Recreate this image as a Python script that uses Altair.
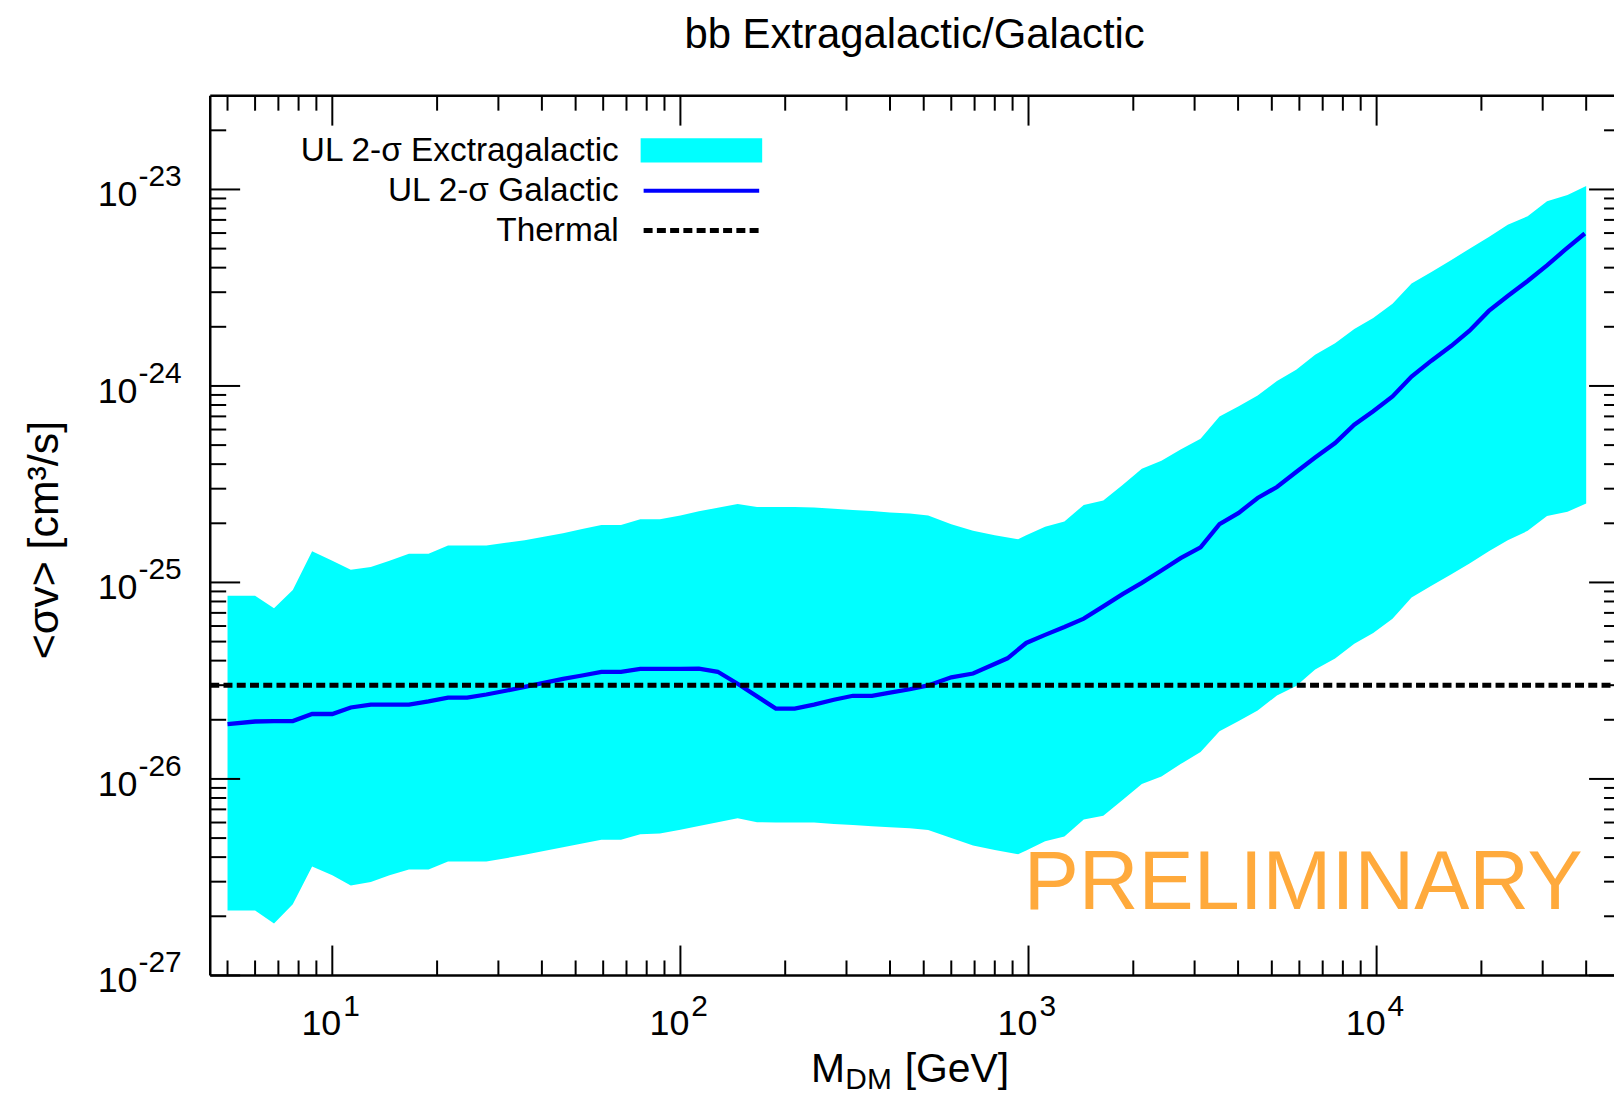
import altair as alt
import pandas as pd

# ---------------- data ----------------
band_mass = [5, 6, 6.8, 7.7, 8.75, 10, 11.3, 12.9, 14.6, 16.6, 18.9, 21.5, 24.4, 27.7, 31.5,
             35.7, 40.5, 46, 52.2, 59.3, 67.5, 76.7, 87.3, 100, 113, 128, 146, 166, 188, 213,
             242, 276, 313, 355, 400, 456, 515, 600, 693, 800, 933, 985, 1116, 1268, 1441,
             1640, 1863, 2116, 2409, 2735, 3121, 3537, 4017, 4553, 5173, 5875, 6659, 7599,
             8628, 9779, 11110, 12600, 14370, 16400, 18490, 21010, 23810, 27160, 30870,
             35350, 40000]
band_upper = [8.55e-26, 8.55e-26, 7.38e-26, 9.16e-26, 1.44e-25, 1.29e-25, 1.16e-25, 1.20e-25,
              1.29e-25, 1.40e-25, 1.40e-25, 1.54e-25, 1.54e-25, 1.54e-25, 1.59e-25, 1.64e-25,
              1.71e-25, 1.78e-25, 1.87e-25, 1.96e-25, 1.96e-25, 2.10e-25, 2.10e-25, 2.19e-25,
              2.30e-25, 2.40e-25, 2.51e-25, 2.42e-25, 2.42e-25, 2.42e-25, 2.41e-25, 2.37e-25,
              2.34e-25, 2.31e-25, 2.27e-25, 2.24e-25, 2.19e-25, 1.98e-25, 1.83e-25, 1.74e-25,
              1.66e-25, 1.74e-25, 1.92e-25, 2.04e-25, 2.48e-25, 2.61e-25, 3.13e-25, 3.79e-25,
              4.16e-25, 4.75e-25, 5.38e-25, 7.00e-25, 7.89e-25, 8.93e-25, 1.06e-24, 1.21e-24,
              1.44e-24, 1.65e-24, 1.95e-24, 2.22e-24, 2.62e-24, 3.32e-24, 3.80e-24, 4.38e-24,
              4.99e-24, 5.73e-24, 6.61e-24, 7.30e-24, 8.71e-24, 9.36e-24, 1.04e-23]
band_lower = [2.14e-27, 2.14e-27, 1.84e-27, 2.30e-27, 3.58e-27, 3.23e-27, 2.87e-27, 2.99e-27,
              3.23e-27, 3.46e-27, 3.46e-27, 3.80e-27, 3.80e-27, 3.80e-27, 3.95e-27, 4.11e-27,
              4.30e-27, 4.49e-27, 4.69e-27, 4.91e-27, 4.91e-27, 5.23e-27, 5.28e-27, 5.52e-27,
              5.76e-27, 6.02e-27, 6.31e-27, 6.02e-27, 6.00e-27, 6.00e-27, 6.00e-27, 5.90e-27,
              5.83e-27, 5.74e-27, 5.68e-27, 5.61e-27, 5.50e-27, 5.01e-27, 4.58e-27, 4.35e-27,
              4.14e-27, 4.32e-27, 4.82e-27, 5.09e-27, 6.21e-27, 6.50e-27, 7.81e-27, 9.41e-27,
              1.03e-26, 1.19e-26, 1.37e-26, 1.75e-26, 1.97e-26, 2.23e-26, 2.66e-26, 2.97e-26,
              3.61e-26, 4.10e-26, 4.88e-26, 5.53e-26, 6.53e-26, 8.38e-26, 9.62e-26, 1.10e-25,
              1.25e-25, 1.44e-25, 1.64e-25, 1.83e-25, 2.18e-25, 2.29e-25, 2.52e-25]

gal_mass = [5, 6, 6.8, 7.7, 8.75, 10, 11.3, 12.9, 14.6, 16.6, 18.9, 21.5, 24.4, 27.7, 31.5,
            35.7, 40.5, 46, 52.2, 59.3, 67.5, 76.7, 87.3, 100, 113, 128, 146, 188, 213, 242,
            276, 313, 355, 400, 456, 515, 600, 693, 870, 985, 1116, 1268, 1441, 1640, 1863,
            2116, 2409, 2735, 3121, 3537, 4017, 4553, 5173, 5875, 6659, 7599, 8628, 9779,
            11110, 12600, 14370, 16400, 18490, 21010, 23810, 27160, 30870, 34750, 39630]
gal_sigma = [1.90e-26, 1.96e-26, 1.97e-26, 1.97e-26, 2.14e-26, 2.14e-26, 2.31e-26, 2.39e-26,
             2.39e-26, 2.39e-26, 2.48e-26, 2.59e-26, 2.59e-26, 2.69e-26, 2.81e-26, 2.94e-26,
             3.08e-26, 3.23e-26, 3.36e-26, 3.51e-26, 3.51e-26, 3.63e-26, 3.63e-26, 3.63e-26,
             3.64e-26, 3.51e-26, 3.05e-26, 2.28e-26, 2.28e-26, 2.39e-26, 2.53e-26, 2.65e-26,
             2.65e-26, 2.75e-26, 2.86e-26, 2.99e-26, 3.29e-26, 3.44e-26, 4.11e-26, 4.92e-26,
             5.41e-26, 5.93e-26, 6.54e-26, 7.55e-26, 8.72e-26, 9.95e-26, 1.15e-25, 1.33e-25,
             1.51e-25, 1.98e-25, 2.26e-25, 2.69e-25, 3.06e-25, 3.65e-25, 4.32e-25, 5.12e-25,
             6.35e-25, 7.44e-25, 8.84e-25, 1.116e-24, 1.345e-24, 1.60e-24, 1.91e-24, 2.41e-24,
             2.87e-24, 3.42e-24, 4.11e-24, 4.92e-24, 5.97e-24]

thermal_value = [3.0e-26]

x_major = [10, 100, 1000, 10000]
x_minor = [5, 6, 7, 8, 9, 20, 30, 40, 50, 60, 70, 80, 90, 200, 300, 400, 500, 600, 700, 800,
           900, 2000, 3000, 4000, 5000, 6000, 7000, 8000, 9000, 20000, 30000, 40000]
x_label_base = ["10", "10", "10", "10"]
x_label_exp = ["1", "2", "3", "4"]

y_major = [1e-27, 1e-26, 1e-25, 1e-24, 1e-23]
y_minor = [m * 10.0 ** e for e in (-27, -26, -25, -24) for m in range(2, 10)] + [2e-23]
y_label_base = ["10", "10", "10", "10", "10"]
y_label_exp = ["-27", "-26", "-25", "-24", "-23"]

title_text = "bb Extragalactic/Galactic"
legend_labels = ["UL 2-\u03c3 Exctragalactic", "UL 2-\u03c3 Galactic", "Thermal"]
y_title = "<\u03c3v> [cm\u00b3/s]"
x_title_parts = ["M", "DM", "[GeV]"]
watermark = "PRELIMINARY"

# ---------------- layout ----------------
W, H = 1409, 883
FONT = "Liberation Sans"
xs = alt.Scale(type="log", domain=[4.46, 48080], nice=False, zero=False)
ys = alt.Scale(type="log", domain=[1e-27, 3.0e-23], nice=False, zero=False)
one = pd.DataFrame({"a": [0]})

band_df = pd.DataFrame({"m": band_mass, "hi": band_upper, "lo": band_lower})
gal_df = pd.DataFrame({"m": gal_mass, "sv": gal_sigma})

band = alt.Chart(band_df).mark_area(color="#00ffff", opacity=1, clip=True).encode(
    x=alt.X("m:Q", scale=xs, axis=None),
    y=alt.Y("hi:Q", scale=ys, axis=None),
    y2="lo:Q",
)
gal = alt.Chart(gal_df).mark_line(color="#0000ff", strokeWidth=4.3, clip=True).encode(
    x=alt.X("m:Q", scale=xs, axis=None),
    y=alt.Y("sv:Q", scale=ys, axis=None),
)
thermal = alt.Chart(pd.DataFrame({"v": thermal_value})).mark_rule(
    color="black", strokeWidth=5, strokeDash=[9, 4.3]
).encode(y=alt.Y("v:Q", scale=ys, axis=None), x=alt.value(0), x2=alt.value(W))

frame = [
    alt.Chart(one).mark_rule(color="black", strokeWidth=2.5).encode(
        x=alt.value(0), y=alt.value(0), y2=alt.value(H)),
    alt.Chart(one).mark_rule(color="black", strokeWidth=2.5).encode(
        y=alt.value(0), x=alt.value(0), x2=alt.value(W)),
    alt.Chart(one).mark_rule(color="black", strokeWidth=2.5).encode(
        y=alt.value(H), x=alt.value(0), x2=alt.value(W)),
]


def xticks(vals, length):
    d = pd.DataFrame({"v": vals})
    bottom = alt.Chart(d).mark_rule(color="black", strokeWidth=2).encode(
        x=alt.X("v:Q", scale=xs, axis=None), y=alt.value(H), y2=alt.value(H - length))
    top = alt.Chart(d).mark_rule(color="black", strokeWidth=2).encode(
        x=alt.X("v:Q", scale=xs, axis=None), y=alt.value(0), y2=alt.value(length))
    return [bottom, top]


def yticks(vals, length, rlen):
    d = pd.DataFrame({"v": vals})
    left = alt.Chart(d).mark_rule(color="black", strokeWidth=2).encode(
        y=alt.Y("v:Q", scale=ys, axis=None), x=alt.value(0), x2=alt.value(length))
    right = alt.Chart(d).mark_rule(color="black", strokeWidth=2).encode(
        y=alt.Y("v:Q", scale=ys, axis=None), x=alt.value(W - rlen), x2=alt.value(W))
    return [left, right]


ticks = xticks(x_major, 30) + xticks(x_minor, 15) + yticks(y_major, 30, 25) + yticks(y_minor, 16, 10)

xl_df = pd.DataFrame({"v": x_major, "b": x_label_base, "e": x_label_exp})
yl_df = pd.DataFrame({"v": y_major, "b": y_label_base, "e": y_label_exp})

labels = [
    alt.Chart(xl_df).mark_text(font=FONT, fontSize=36, align="right", baseline="alphabetic",
                               dx=9, color="black").encode(
        x=alt.X("v:Q", scale=xs, axis=None), y=alt.value(H + 60), text="b:N"),
    alt.Chart(xl_df).mark_text(font=FONT, fontSize=30, align="left", baseline="alphabetic",
                               dx=11, color="black").encode(
        x=alt.X("v:Q", scale=xs, axis=None), y=alt.value(H + 41), text="e:N"),
    alt.Chart(yl_df).mark_text(font=FONT, fontSize=36, align="right", baseline="alphabetic",
                               dy=17, color="black").encode(
        y=alt.Y("v:Q", scale=ys, axis=None), x=alt.value(-73), text="b:N"),
    alt.Chart(yl_df).mark_text(font=FONT, fontSize=30, align="left", baseline="alphabetic",
                               dy=-3, color="black").encode(
        y=alt.Y("v:Q", scale=ys, axis=None), x=alt.value(-72), text="e:N"),
]


def label(text, x, y, size, align="left", angle=0, color="black"):
    props = dict(text=text, font=FONT, fontSize=size, align=align, baseline="alphabetic",
                 color=color)
    if angle:
        props["angle"] = angle
    return alt.Chart(one).mark_text(**props).encode(x=alt.value(x), y=alt.value(y))


texts = [
    label(title_text, 707, -48, 42, align="center"),
    label(y_title, -153, 446, 43, align="center", angle=270),
    label(x_title_parts[0], 603, 990, 41),
    label(x_title_parts[1], 637.5, 997, 30),
    label(x_title_parts[2], 697, 990, 41),
    label(legend_labels[0], 410, 66, 33.5, align="right"),
    label(legend_labels[1], 410, 106, 33.5, align="right"),
    label(legend_labels[2], 410, 146, 33.5, align="right"),
    label(watermark, 1097, 816, 83, align="center", color="#ffaa3c"),
]

legend_keys = [
    alt.Chart(one).mark_rect(color="#00ffff").encode(
        x=alt.value(432), x2=alt.value(554), y=alt.value(42.7), y2=alt.value(67)),
    alt.Chart(one).mark_rule(color="#0000ff", strokeWidth=4).encode(
        x=alt.value(435), x2=alt.value(551), y=alt.value(95.3)),
    alt.Chart(one).mark_rule(color="black", strokeWidth=5, strokeDash=[9, 4.3]).encode(
        x=alt.value(435), x2=alt.value(551), y=alt.value(135.3)),
]

chart = alt.layer(
    band, gal, thermal, *frame, *ticks, *labels, *legend_keys, *texts
).properties(
    width=W, height=H,
    padding={"left": 203, "top": 86, "right": 0, "bottom": 122},
    autosize=alt.AutoSizeParams(type="none"),
).configure_view(stroke=None)

chart.save("out.html", embed_options={"renderer": "svg", "actions": False})
